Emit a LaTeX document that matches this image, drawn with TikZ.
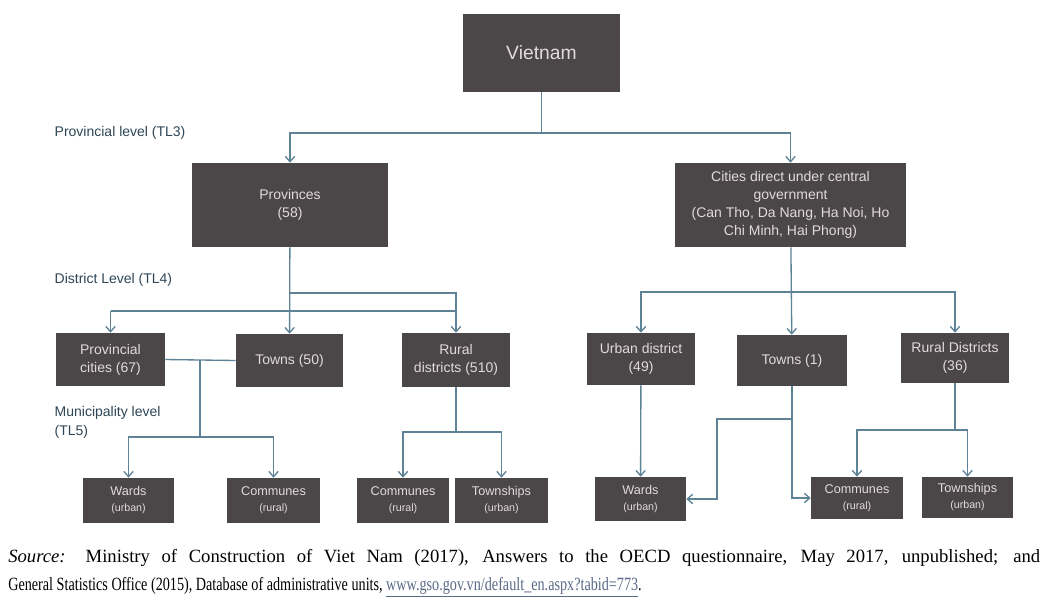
\documentclass[tikz,border=0pt]{standalone}
\usepackage{fontspec}
\setmainfont{Liberation Sans}
\newfontfamily\notefont[FakeStretch=0.76]{Liberation Serif}
\newfontfamily\notewide{Liberation Serif}
\usepackage{tikz}
\usetikzlibrary{arrows.meta}

\definecolor{boxfill}{HTML}{4B4648}
\definecolor{boxtext}{HTML}{E2DADD}
\definecolor{linkline}{HTML}{5E8397}
\definecolor{leveltext}{HTML}{2E4656}
\definecolor{urltext}{HTML}{5A6A88}
\newcommand\subsize{\fontsize{8}{10}\selectfont}

\begin{document}
\begin{tikzpicture}[x=0.75pt,y=-0.75pt,
      every node/.style={align=center},
      sz/.style 2 args={minimum width=#1*0.75pt,minimum height=#2*0.75pt},
      unit/.style={fill=boxfill,text=boxtext,inner sep=1pt,
        font=\fontsize{10.5}{13.5}\selectfont},
      small unit/.style={unit,font=\fontsize{9.5}{12}\selectfont},
      level/.style={text=leveltext,anchor=west,align=left,
        font=\fontsize{10.5}{14}\selectfont},
      link/.style={draw=linkline,line width=1pt},
      arr/.style={link,-{Straight Barb[length=4pt,width=7pt]}}]
      \useasboundingbox[fill=white] (0,0) rectangle (1048,608);

      % top
      \node[unit,sz={157}{78},
        font=\fontsize{14.5}{16}\selectfont] (viet) at (541.5,53) {Vietnam};

      % provincial level
      \node[level] (tl3) at (50,133) {Provincial level (TL3)};
      \node[unit,sz={196}{84}] (prov) at (290,205)
        {Provinces\\(58)};
      \node[unit,sz={231}{84}] (cities) at (790.5,205)
        {Cities direct under central\\government\\(Can Tho, Da Nang, Ha Noi, Ho\\Chi Minh, Hai Phong)};

      % district level
      \node[level] (tl4) at (50,280) {District Level (TL4)};
      \node[unit,sz={109}{53}] (pcity) at (110.5,359.5)
        {Provincial\\cities (67)};
      \node[unit,sz={107}{53}] (townsA) at (289.5,360.5)
        {Towns (50)};
      \node[unit,sz={108}{54}] (ruralA) at (456,360)
        {Rural\\districts (510)};
      \node[unit,sz={108}{52}] (urban) at (641,359)
        {Urban district\\(49)};
      \node[unit,sz={110}{51}] (townsB) at (792,360.5)
        {Towns (1)};
      \node[unit,sz={108}{50}] (ruralB) at (955,358)
        {Rural Districts\\(36)};

      % municipality level
      \node[level,anchor=north west] (tl5) at (50,402) {Municipality level\\(TL5)};
      \node[small unit,sz={91}{45}] (wardsA) at (128.5,500.5)
        {Wards\\{\subsize(urban)}};
      \node[small unit,sz={93}{45}] (commA) at (273.5,500.5)
        {Communes\\{\subsize(rural)}};
      \node[small unit,sz={92}{45}] (commB) at (403,500.5)
        {Communes\\{\subsize(rural)}};
      \node[small unit,sz={93}{45}] (townshA) at (501.5,500.5)
        {Townships\\{\subsize(urban)}};
      \node[small unit,sz={91}{44}] (wardsB) at (640.5,499)
        {Wards\\{\subsize(urban)}};
      \node[small unit,sz={92}{42}] (commC) at (857,498)
        {Communes\\{\subsize(rural)}};
      \node[small unit,sz={91}{41}] (townshB) at (967.5,497.5)
        {Townships\\{\subsize(urban)}};

      % connectors
      \coordinate (j1) at (541.5,133);
      \draw[link] (viet) -- (j1);
      \draw[arr] (j1) -| (prov);
      \draw[arr] (j1) -| (cities);

      \coordinate (j2) at (290,293);
      \coordinate (j3) at (0,311);
      \draw[arr] (prov) -- (townsA);
      \draw[arr] (j2) -| (ruralA);
      \draw[link] (pcity |- j3) -- (ruralA |- j3);
      \draw[arr] (pcity |- j3) -- (pcity);

      \coordinate (j4) at (790.5,292);
      \draw[arr] (cities) -- (townsB);
      \draw[arr] (j4) -| (urban);
      \draw[arr] (j4) -| (ruralB);

      \coordinate (j5) at (200,437);
      \draw[link] (pcity.east) -- (townsA.west);
      \draw[link] (j5 |- pcity.east) -- (j5);
      \draw[arr] (j5) -| (wardsA);
      \draw[arr] (j5) -| (commA);

      \coordinate (j6) at (456,432);
      \draw[link] (ruralA) -- (j6);
      \draw[arr] (j6) -| (commB);
      \draw[arr] (j6) -| (townshA);

      \draw[arr] (urban) -- (wardsB);
      \coordinate (j7) at (717,419);
      \draw[arr] (townsB.south) |- (commC.west);
      \draw[arr] (townsB.south |- j7) -- (j7) |- (wardsB.east);

      \coordinate (j8) at (955,430);
      \draw[link] (ruralB) -- (j8);
      \draw[arr] (j8) -| (commC);
      \draw[arr] (j8) -| (townshB);

      % source note
      \node[anchor=base west,inner sep=0pt,font=\notewide\fontsize{14}{16}\selectfont] (src1) at (8,562)
        {\makebox[774pt][s]{\textit{Source:} Ministry of Construction of Viet Nam (2017), Answers to the OECD questionnaire, May 2017, unpublished; and}};
      \node[anchor=base west,inner sep=0pt,font=\notefont\fontsize{14}{16}\selectfont] (src2) at (8,590)
        {General Statistics Office (2015), Database of administrative units, \textcolor{urltext}{\underline{www.gso.gov.vn/default\_en.aspx?tabid=773}}.};
    \end{tikzpicture}
\end{document}
